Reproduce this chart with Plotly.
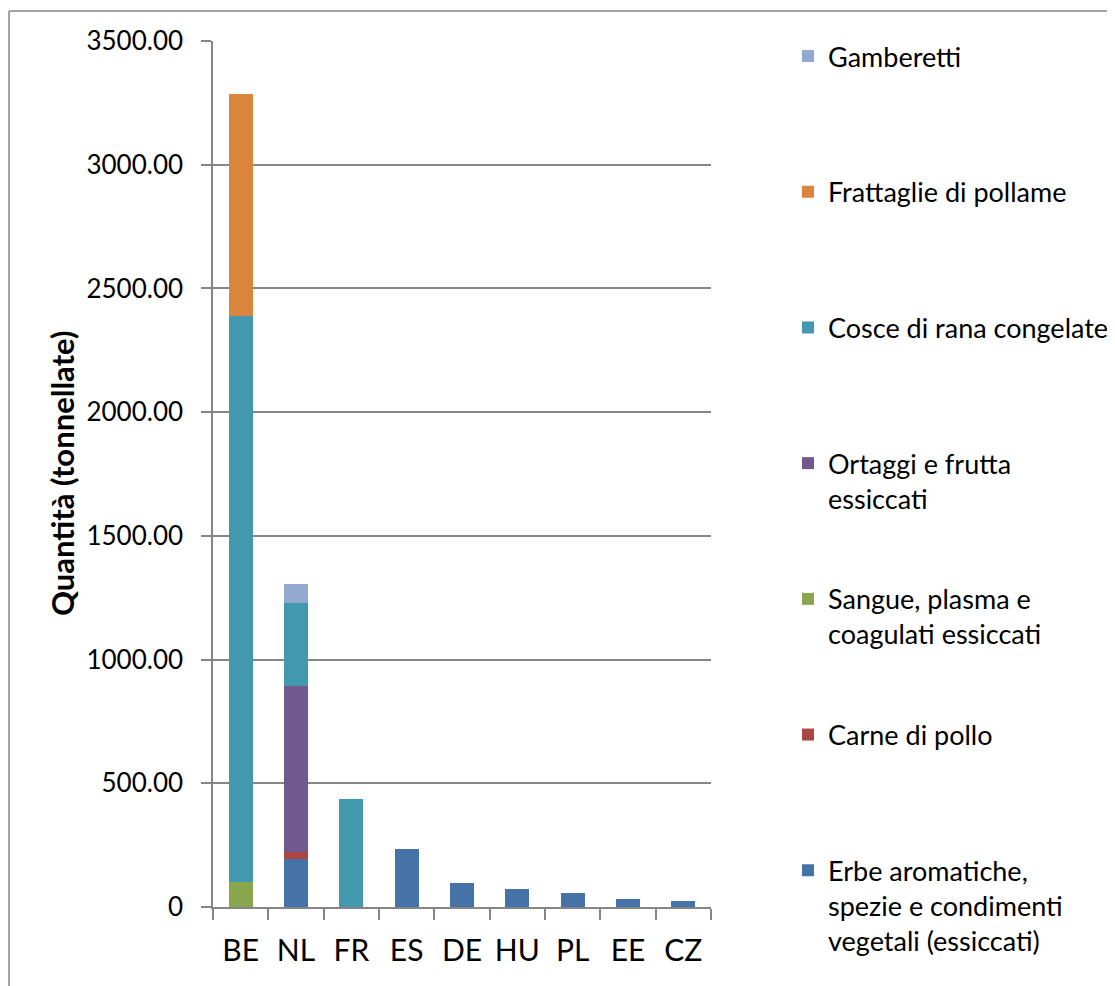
import plotly.graph_objects as go

countries = ["BE", "NL", "FR", "ES", "DE", "HU", "PL", "EE", "CZ"]

erbe = [0, 193, 0, 233, 96, 71, 55, 31, 23]
carne = [0, 31, 0, 0, 0, 0, 0, 0, 0]
sangue = [100, 0, 0, 0, 0, 0, 0, 0, 0]
ortaggi = [0, 671, 0, 0, 0, 0, 0, 0, 0]
cosce = [2290, 332, 435, 0, 0, 0, 0, 0, 0]
frattaglie = [896, 0, 0, 0, 0, 0, 0, 0, 0]
gamberetti = [0, 79, 0, 0, 0, 0, 0, 0, 0]

series_names = [
    "Erbe aromatiche,<br>spezie e condimenti<br>vegetali (essiccati)",
    "Carne di pollo",
    "Sangue, plasma e<br>coagulati essiccati",
    "Ortaggi e frutta<br>essiccati",
    "Cosce di rana congelate",
    "Frattaglie di pollame",
    "Gamberetti",
]
series_values = [erbe, carne, sangue, ortaggi, cosce, frattaglie, gamberetti]
series_colors = ["#4572A7", "#AA4643", "#89A54E", "#71588F", "#4198AF", "#DB843D", "#93A9CF"]

y_tickvals = [0, 500, 1000, 1500, 2000, 2500, 3000, 3500]
y_ticktext = ["0", "500.00", "1000.00", "1500.00", "2000.00", "2500.00", "3000.00", "3500.00"]
y_title = "Quantità (tonnellate)"

FONT = "Lato"
GRID = "#868686"
OFF = 8  # default body margin of the html page


def pad3(label):
    n = label.count("<br>") + 1
    return label + "<br>\u00a0" * (3 - n)


fig = go.Figure()
nser = len(series_names)
for i, (name, vals, col) in enumerate(zip(series_names, series_values, series_colors)):
    fig.add_trace(go.Bar(
        x=countries, y=vals, name=pad3(name),
        marker=dict(color=col, line=dict(width=0)),
        legendgroup=f"g{i}",
        legendrank=nser - i,
    ))

# target page coordinates minus body offset
L, R, T, B = 213 - OFF, 711 - OFF, 41 - OFF, 907 - OFF
W, H = 1115 - OFF, 986 - OFF
PW, PH = R - L, B - T

fig.update_layout(
    width=W, height=H,
    barmode="stack",
    bargap=0.57,
    plot_bgcolor="white",
    paper_bgcolor="white",
    margin=dict(l=L, r=W - R, t=T, b=H - B, autoexpand=False),
    font=dict(family=FONT, color="#000000", size=22),
    legend=dict(
        x=(780 - L) / PW, xanchor="left",
        y=(B - 24) / PH, yanchor="top",
        traceorder="grouped",
        tracegroupgap=27.4,
        valign="top",
        maxheight=H,
        font=dict(family=FONT, size=27, color="#000000"),
        bgcolor="rgba(0,0,0,0)",
    ),
    xaxis=dict(
        showline=True, linecolor=GRID, linewidth=1.5,
        ticks="outside", ticklen=11, tickcolor=GRID, tickwidth=1.5,
        tickson="boundaries",
        tickfont=dict(family=FONT, size=30),
        ticklabelstandoff=16,
        showgrid=False,
    ),
    yaxis=dict(
        range=[0, 3500],
        tickvals=y_tickvals, ticktext=y_ticktext,
        showline=True, linecolor=GRID, linewidth=1.5,
        ticks="outside", ticklen=10, tickcolor=GRID, tickwidth=1.5,
        ticklabelstandoff=13,
        showgrid=True, gridcolor=GRID, gridwidth=1.5,
        zeroline=False,
        tickfont=dict(family=FONT, size=26),
    ),
)

fig.add_annotation(
    text=f"<b>{y_title}</b>", textangle=-90,
    xref="paper", yref="paper",
    x=(62 - OFF - L) / PW, xanchor="center",
    y=0.5, yanchor="middle",
    showarrow=False,
    font=dict(family=FONT, size=31, color="#000000"),
)

# outer chart border (left and top edges visible)
x_left = (9 - OFF - L) / PW
y_top = (B - (11 - OFF)) / PH
fig.add_shape(type="line", xref="paper", yref="paper",
              x0=x_left, x1=(W + 5 - L) / PW, y0=y_top, y1=y_top,
              line=dict(color=GRID, width=1.5))
fig.add_shape(type="line", xref="paper", yref="paper",
              x0=x_left, x1=x_left, y0=y_top, y1=(B - H - 5) / PH,
              line=dict(color=GRID, width=1.5))

fig.write_html("out.html")
